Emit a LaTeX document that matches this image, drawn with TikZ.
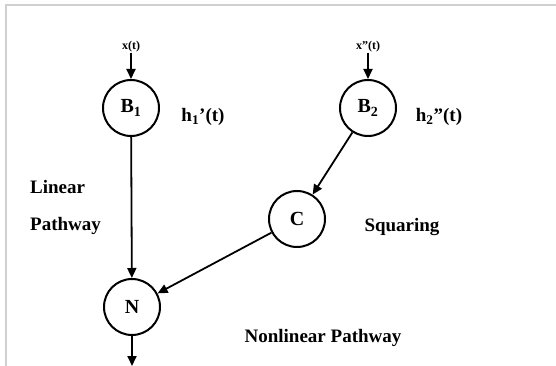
\documentclass[tikz,border=0pt]{standalone}
\usepackage{fontspec}
\setmainfont{Liberation Serif}
\usepackage{tikz}
\usepackage{xcolor}
\usetikzlibrary{arrows.meta, positioning, calc}
\definecolor{fgray} {RGB}{208,208,208}

\begin{document}
\begin{tikzpicture}[x=1pt, y=-1pt,
    block/.style={circle, draw, line width=2pt, minimum size=56pt,
                  inner sep=0pt, font=\fontsize{20}{22}\selectfont\bfseries},
    lbl/.style={font=\fontsize{19}{21}\selectfont\bfseries, inner sep=0pt},
    sig/.style={font=\fontsize{12}{13}\selectfont\bfseries, inner sep=0pt},
    flow/.style={line width=1.8pt, -{Triangle[length=10pt, width=9pt]}}]
  \useasboundingbox (0,0) rectangle (556,366);
  % frame
  \draw[fgray, line width=2pt] (5.5,366) -- (5.5,5.5) -- (556,5.5);

  % blocks
  \node[block] (b1) at (131,108) {B\textsubscript{1}};
  \node[block] (b2) at (368,108) {B\textsubscript{2}};
  \node[block] (sq) at (297,219) {C};
  \node[block] (nl) at (132,307) {N};

  % inputs and output
  \node[sig] (xin)  at (131,47) {x(t)};
  \node[sig] (xxin) at (368,47) {x''(t)};
  \coordinate (yout) at (132,366);

  % labels
  \node[lbl] (h1)   at (203,117) {h\textsubscript{1}'(t)};
  \node[lbl] (h2)   at (439,117) {h\textsubscript{2}''(t)};
  \node[lbl, anchor=west] (lin)  at (30,187) {Linear};
  \node[lbl, anchor=west] (path) at (30,226) {Pathway};
  \node[lbl] (sqr)  at (402,227) {Squaring};
  \node[lbl] (nlp)  at (323,338) {Nonlinear Pathway};

  % connections
  \draw[flow] (xin) -- (b1);
  \draw[flow] (xxin) -- (b2);
  \draw[flow] (b1) -- (nl);
  \draw[flow] (b2) -- (sq);
  \draw[flow] (sq) -- (nl);
  \draw[flow] (nl) -- (yout);
\end{tikzpicture}
\end{document}
